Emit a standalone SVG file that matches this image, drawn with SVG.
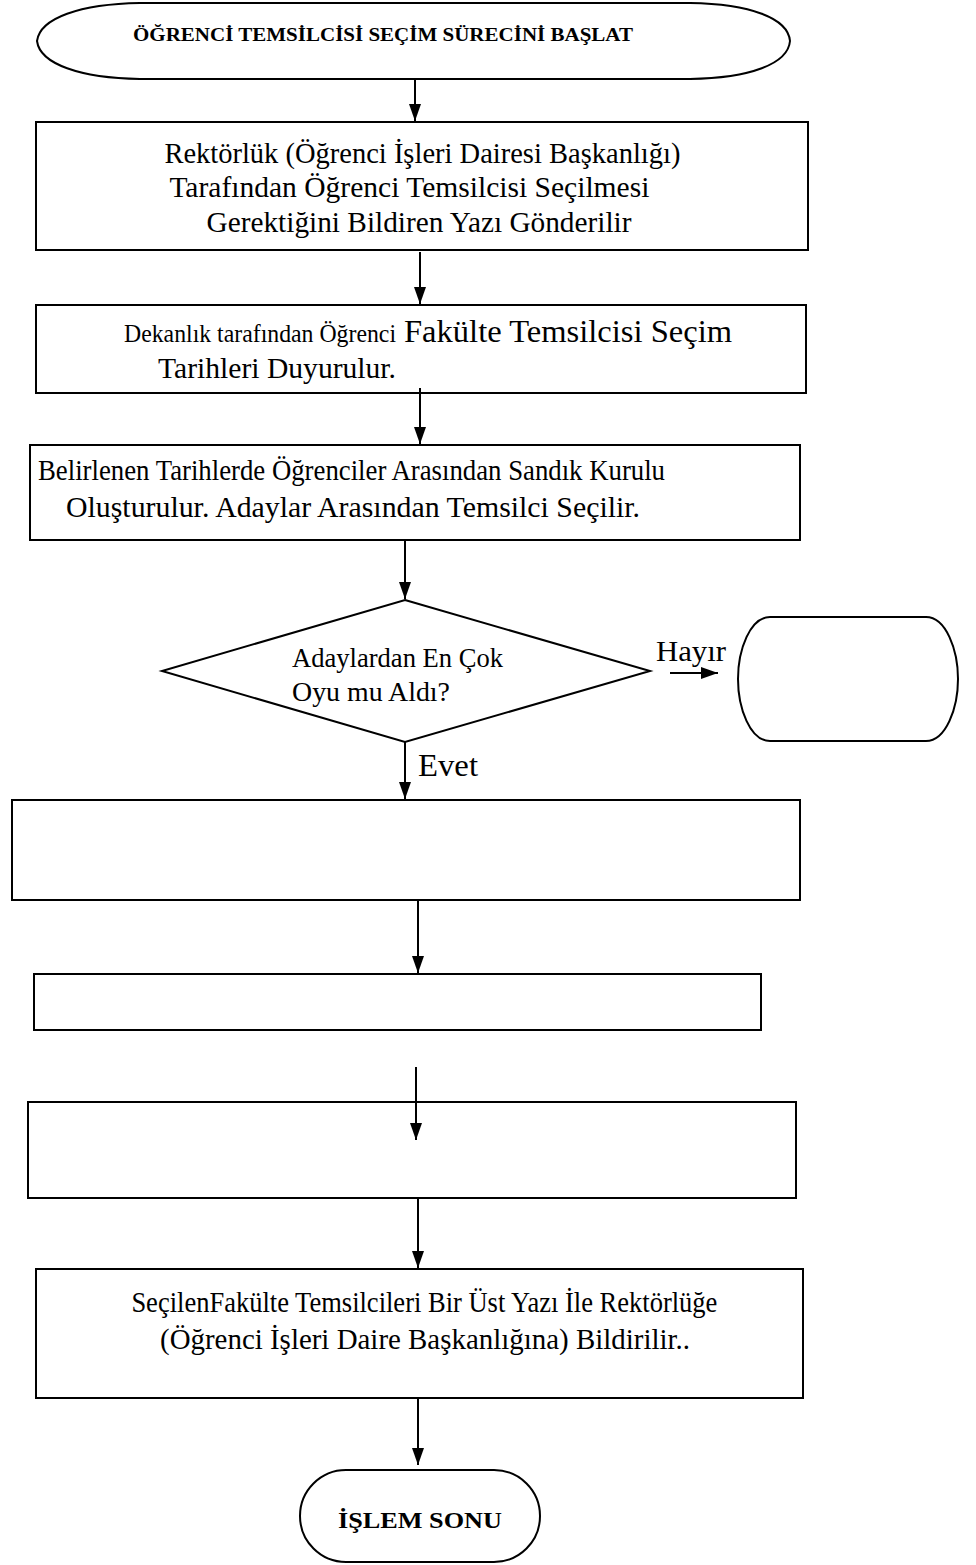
<svg xmlns="http://www.w3.org/2000/svg" width="976" height="1565" viewBox="0 0 976 1565">
  <defs>
    <!-- filled arrowhead, tip at the end of the line -->
    <marker id="arrow" viewBox="0 0 17 12" refX="17" refY="6" markerWidth="17" markerHeight="12" markerUnits="userSpaceOnUse" orient="auto">
      <path d="M0,0 L17,6 L0,12 Z" fill="#000"/>
    </marker>
    <style>
      .shape { fill: #fff; stroke: #000; stroke-width: 2; }
      .conn { stroke: #000; stroke-width: 2; fill: none; }
      .t { font-family: "Liberation Serif", "Times New Roman", serif; fill: #000; }
      .b { font-weight: bold; }
    </style>
  </defs>

  <rect width="976" height="1565" fill="#fff"/>

  <!-- start terminator -->
  <g id="start">
    <path class="shape" d="M37,41 C40,18 80,4 140,3 L690,3 C750,4 788,18 790,41 C788,64 750,78 690,79 L140,79 C80,78 40,64 37,41 Z"/>
    <text class="t b" x="383" y="41" font-size="19" text-anchor="middle" textLength="500" lengthAdjust="spacingAndGlyphs">ÖĞRENCİ TEMSİLCİSİ SEÇİM SÜRECİNİ BAŞLAT</text>
  </g>

  <!-- step 1 -->
  <g id="rektorluk">
    <rect class="shape" x="36" y="122" width="772" height="128"/>
    <text class="t" font-size="29" text-anchor="middle">
      <tspan x="426" y="163" textLength="516" lengthAdjust="spacingAndGlyphs">Rektörlük (Öğrenci İşleri Dairesi Başkanlığı)</tspan>
      <tspan x="413" y="197" textLength="480" lengthAdjust="spacingAndGlyphs">Tarafından Öğrenci Temsilcisi Seçilmesi</tspan>
      <tspan x="419" y="232" textLength="425" lengthAdjust="spacingAndGlyphs">Gerektiğini Bildiren Yazı Gönderilir</tspan>
    </text>
  </g>

  <!-- step 2 -->
  <g id="dekanlik">
    <rect class="shape" x="36" y="305" width="770" height="88"/>
    <text class="t">
      <tspan x="124" y="342" font-size="26" textLength="272" lengthAdjust="spacingAndGlyphs">Dekanlık tarafından  Öğrenci</tspan>
      <tspan x="404" y="342" font-size="31" textLength="328" lengthAdjust="spacingAndGlyphs">Fakülte Temsilcisi Seçim</tspan>
      <tspan x="158" y="378" font-size="29" textLength="238" lengthAdjust="spacingAndGlyphs">Tarihleri Duyurulur.</tspan>
    </text>
  </g>

  <!-- step 3 -->
  <g id="sandik">
    <rect class="shape" x="30" y="445" width="770" height="95"/>
    <text class="t" font-size="29">
      <tspan x="38" y="480" textLength="627" lengthAdjust="spacingAndGlyphs">Belirlenen Tarihlerde Öğrenciler Arasından Sandık Kurulu</tspan>
      <tspan x="66" y="517" textLength="574" lengthAdjust="spacingAndGlyphs">Oluşturulur. Adaylar Arasından  Temsilci Seçilir.</tspan>
    </text>
  </g>

  <!-- decision -->
  <g id="karar">
    <polygon class="shape" points="405,600 650,671 405,742 162,671"/>
    <text class="t" font-size="27">
      <tspan x="292" y="667" textLength="211" lengthAdjust="spacingAndGlyphs">Adaylardan En Çok</tspan>
      <tspan x="292" y="701" textLength="158" lengthAdjust="spacingAndGlyphs">Oyu mu  Aldı?</tspan>
    </text>
  </g>

  <!-- "no" branch target -->
  <g id="hayir-kutu">
    <path class="shape" d="M770,617 L926,617 C946,617 958,650 958,679 C958,708 946,741 926,741 L770,741 C750,741 738,708 738,679 C738,650 750,617 770,617 Z"/>
  </g>

  <g id="adim4">
    <rect class="shape" x="12" y="800" width="788" height="100"/>
  </g>

  <g id="adim5">
    <rect class="shape" x="34" y="974" width="727" height="56"/>
  </g>

  <g id="adim6">
    <rect class="shape" x="28" y="1102" width="768" height="96"/>
  </g>

  <!-- report to rectorate -->
  <g id="bildirim">
    <rect class="shape" x="36" y="1269" width="767" height="129"/>
    <text class="t" font-size="29" text-anchor="middle">
      <tspan x="428" y="1312" textLength="586" lengthAdjust="spacingAndGlyphs">SeçilenFakülte Temsilcileri Bir Üst Yazı İle Rektörlüğe</tspan>
      <tspan x="425" y="1349" textLength="530" lengthAdjust="spacingAndGlyphs">(Öğrenci İşleri Daire Başkanlığına) Bildirilir..</tspan>
    </text>
  </g>

  <!-- end terminator -->
  <g id="son">
    <rect class="shape" x="300" y="1470" width="240" height="92" rx="46" ry="46"/>
    <text class="t b" x="420" y="1528" font-size="24" text-anchor="middle" textLength="164" lengthAdjust="spacingAndGlyphs">İŞLEM SONU</text>
  </g>

  <!-- connectors -->
  <g id="baglantilar">
    <line class="conn" x1="415" y1="80" x2="415" y2="121" marker-end="url(#arrow)"/>
    <line class="conn" x1="420" y1="252" x2="420" y2="304" marker-end="url(#arrow)"/>
    <line class="conn" x1="420" y1="388" x2="420" y2="444" marker-end="url(#arrow)"/>
    <line class="conn" x1="405" y1="541" x2="405" y2="599" marker-end="url(#arrow)"/>
    <line class="conn" x1="405" y1="742" x2="405" y2="799" marker-end="url(#arrow)"/>
    <line class="conn" x1="418" y1="901" x2="418" y2="973" marker-end="url(#arrow)"/>
    <line class="conn" x1="416" y1="1067" x2="416" y2="1140" marker-end="url(#arrow)"/>
    <line class="conn" x1="418" y1="1197" x2="418" y2="1268" marker-end="url(#arrow)"/>
    <line class="conn" x1="418" y1="1399" x2="418" y2="1465" marker-end="url(#arrow)"/>
    <line class="conn" x1="670" y1="673" x2="718" y2="673" marker-end="url(#arrow)"/>
    <text class="t" x="656" y="661" font-size="30" textLength="70" lengthAdjust="spacingAndGlyphs">Hayır</text>
    <text class="t" x="418" y="776" font-size="31" textLength="60" lengthAdjust="spacingAndGlyphs">Evet</text>
  </g>
</svg>
